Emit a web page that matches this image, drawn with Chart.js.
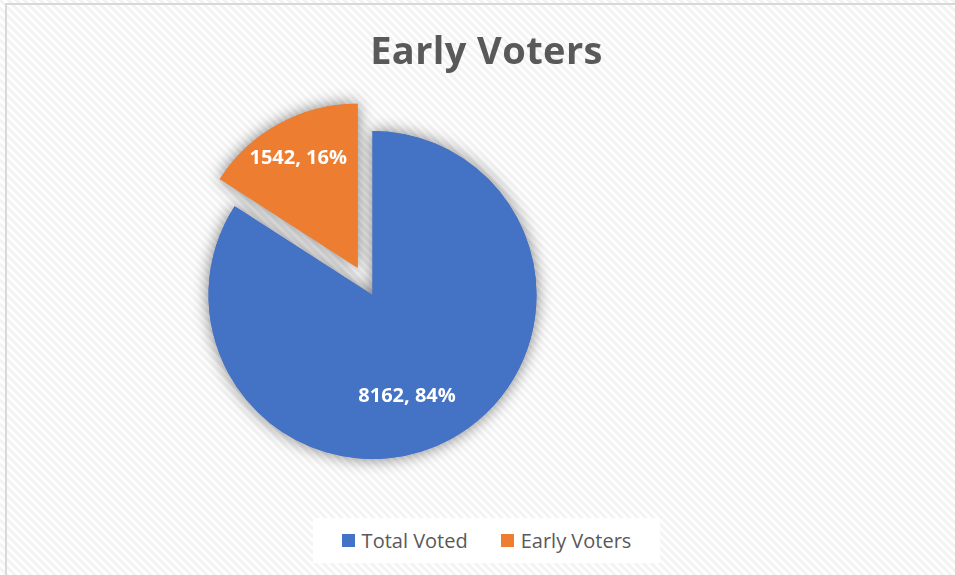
<!DOCTYPE html>
<html>
<head>
<meta charset="utf-8">
<title>Early Voters</title>
<script src="https://cdn.jsdelivr.net/npm/chart.js@4.4.1/dist/chart.umd.min.js"></script>
<style>
    html, body { margin: 0; padding: 0; background: #fff; overflow: hidden; }
    #wrap { position: relative; width: 955px; height: 575px; }
    #chart { position: absolute; left: 0; top: 0; }
    #title {
        position: absolute; left: 0; top: 30px; width: 973px;
        text-align: center; color: #595959; letter-spacing: 0.4px;
        font: bold 38px/38px 'Open Sans', sans-serif;
    }
    #legend {
        position: absolute; left: 313px; top: 518px; width: 347px; height: 45px;
        background: #fff; display: flex; align-items: center; justify-content: center; gap: 33px;
        color: #595959; font: 20px/20px 'Open Sans', sans-serif;
    }
    .item { display: flex; align-items: center; }
    .swatch { width: 13px; height: 13px; margin-right: 7px; }
</style>
</head>
<body>
<div id="wrap">
    <canvas id="chart" width="955" height="575"></canvas>
    <div id="title">Early Voters</div>
    <div id="legend"></div>
</div>
<script>
// Data
const categories = ['Total Voted', 'Early Voters'];
const voteCounts = [8162, 1542];
const sliceColors = ['#4472C4', '#ED7D31'];

// How far each slice is pulled out of the pie (px)
const explodeBy = [0, 31];
// Where each data label sits: fraction of radius, and a turn off the mid angle (deg)
const labelSpots = [{ r: 0.65, turn: 9.7 }, { r: 0.757, turn: 0 }];

// Diagonal hatch background and thin border, like the Excel chart area
const hatchBackground = {
    id: 'hatchBackground',
    beforeDraw(chart) {
        const ctx = chart.ctx;
        const tile = document.createElement('canvas');
        tile.width = 8;
        tile.height = 8;
        const t = tile.getContext('2d');
        t.fillStyle = '#ffffff';
        t.fillRect(0, 0, 8, 8);
        t.strokeStyle = '#f3f3f3';
        t.lineWidth = 3;
        t.beginPath();
        [-8, 0, 8].forEach(k => {
            t.moveTo(k - 2, -2);
            t.lineTo(k + 10, 10);
        });
        t.stroke();

        ctx.save();
        ctx.fillStyle = ctx.createPattern(tile, 'repeat');
        ctx.fillRect(0, 0, chart.width, chart.height);
        ctx.strokeStyle = '#d9d9d9';
        ctx.lineWidth = 2;
        ctx.strokeRect(6, 4, chart.width + 20, chart.height + 20);
        ctx.restore();
    }
};

// Draw arcs with a soft shadow, pull slices out, then write the value labels
const explodedSlices = {
    id: 'explodedSlices',
    beforeDatasetsDraw(chart) {
        const ctx = chart.ctx;
        const arcs = chart.getDatasetMeta(0).data;
        const shiftOf = (arc, i) => {
            const mid = (arc.startAngle + arc.endAngle) / 2;
            return [Math.cos(mid) * explodeBy[i], Math.sin(mid) * explodeBy[i]];
        };
        const drawArcs = () => {
            arcs.forEach((arc, i) => {
                const [dx, dy] = shiftOf(arc, i);
                ctx.save();
                ctx.translate(dx, dy);
                arc.draw(ctx);
                ctx.restore();
            });
        };

        // shadows first, so they sit under both slices
        ctx.save();
        ctx.shadowColor = 'rgba(0, 0, 0, 0.5)';
        ctx.shadowBlur = 16;
        drawArcs();
        ctx.restore();
        drawArcs();

        // labels: "value, percent"
        const total = voteCounts.reduce((a, b) => a + b, 0);
        ctx.save();
        ctx.font = 'bold 20px "Open Sans", sans-serif';
        ctx.fillStyle = '#ffffff';
        ctx.textAlign = 'center';
        ctx.textBaseline = 'middle';
        arcs.forEach((arc, i) => {
            const [dx, dy] = shiftOf(arc, i);
            const a = (arc.startAngle + arc.endAngle) / 2 + labelSpots[i].turn * Math.PI / 180;
            const r = arc.outerRadius * labelSpots[i].r;
            const text = `${voteCounts[i]}, ${Math.round(voteCounts[i] / total * 100)}%`;
            ctx.fillText(text, arc.x + dx + Math.cos(a) * r, arc.y + dy + Math.sin(a) * r);
        });
        ctx.restore();
        return false;
    }
};

// HTML legend built from the same arrays
function buildLegend() {
    const legend = document.getElementById('legend');
    categories.forEach((name, i) => {
        const item = document.createElement('div');
        item.className = 'item';
        const swatch = document.createElement('span');
        swatch.className = 'swatch';
        swatch.style.background = sliceColors[i];
        const label = document.createElement('span');
        label.textContent = name;
        item.appendChild(swatch);
        item.appendChild(label);
        legend.appendChild(item);
    });
}

buildLegend();

new Chart(document.getElementById('chart'), {
    type: 'pie',
    data: {
        labels: categories,
        datasets: [{
            data: voteCounts,
            backgroundColor: sliceColors,
            borderWidth: 0,
            radius: 164
        }]
    },
    options: {
        responsive: false,
        animation: false,
        layout: {
            padding: { left: 200, right: 410, top: 120, bottom: 105 }
        },
        plugins: {
            legend: { display: false },
            title: { display: false },
            tooltip: { enabled: false }
        }
    },
    plugins: [hatchBackground, explodedSlices]
});
</script>
</body>
</html>
